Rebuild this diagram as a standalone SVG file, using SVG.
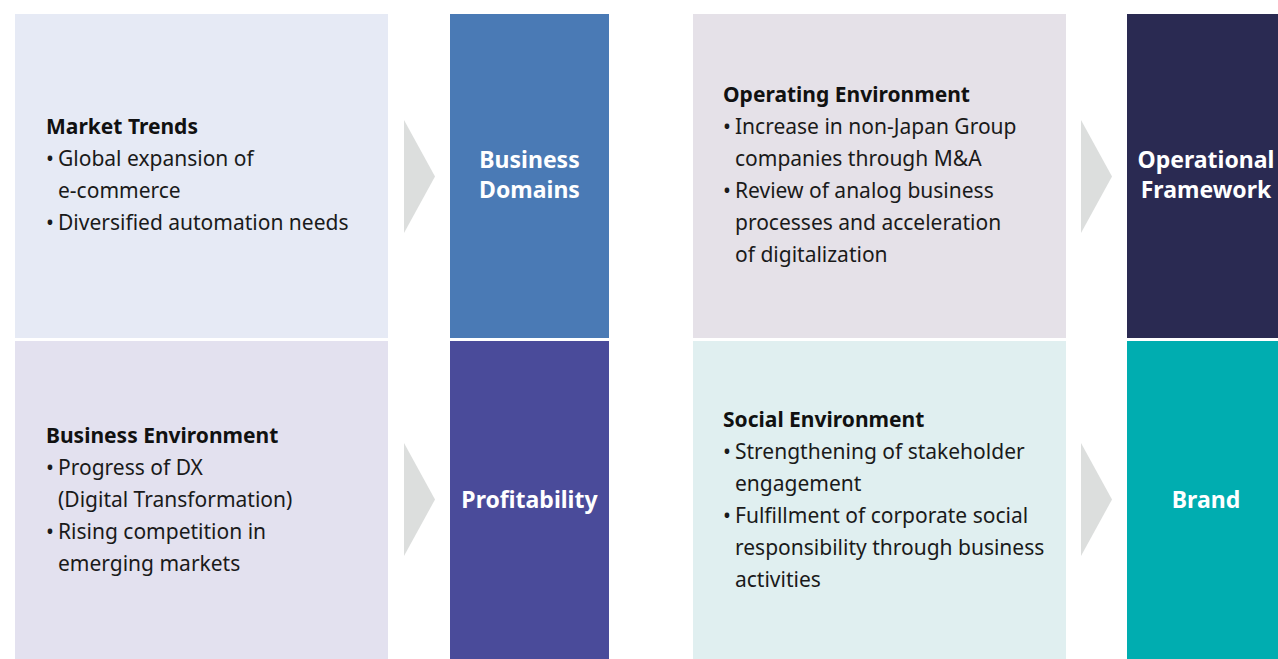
<svg xmlns="http://www.w3.org/2000/svg" width="1278" height="659" viewBox="0 0 1278 659">
<style>
.t{font-family:"Noto Sans","Open Sans",sans-serif;font-size:21px;fill:#1a1a1a}
.h{font-weight:bold;fill:#111}
.w{font-family:"Noto Sans","Open Sans",sans-serif;font-size:23px;font-weight:bold;fill:#fff;text-anchor:middle}
.chev{fill:#dcdedd}
</style>
<rect width="1278" height="659" fill="#fff"/>
<g id="market-trends">
<rect x="15" y="14" width="373" height="324" fill="#e6eaf5"/>
<text class="t h" x="46" y="134">Market Trends</text>
<text class="t" x="46" y="166">•</text><text class="t" x="58" y="166">Global expansion of</text>
<text class="t" x="58" y="198">e-commerce</text>
<text class="t" x="46" y="230">•</text><text class="t" x="58" y="230">Diversified automation needs</text>
</g>
<g id="business-environment">
<rect x="15" y="341" width="373" height="318" fill="#e3e1ef"/>
<text class="t h" x="46" y="443">Business Environment</text>
<text class="t" x="46" y="475">•</text><text class="t" x="58" y="475">Progress of DX</text>
<text class="t" x="58" y="507">(Digital Transformation)</text>
<text class="t" x="46" y="539">•</text><text class="t" x="58" y="539">Rising competition in</text>
<text class="t" x="58" y="571">emerging markets</text>
</g>
<g id="business-domains">
<rect x="450" y="14" width="159" height="324" fill="#4a7ab5"/>
<text class="w" x="529.5" y="168">Business</text>
<text class="w" x="529.5" y="198">Domains</text>
</g>
<g id="profitability">
<rect x="450" y="341" width="159" height="318" fill="#4a4b9a"/>
<text class="w" x="529.5" y="508">Profitability</text>
</g>
<g id="operating-environment">
<rect x="693" y="14" width="373" height="324" fill="#e5e1e8"/>
<text class="t h" x="723" y="102">Operating Environment</text>
<text class="t" x="723" y="134">•</text><text class="t" x="735" y="134">Increase in non-Japan Group</text>
<text class="t" x="735" y="166">companies through M&amp;A</text>
<text class="t" x="723" y="198">•</text><text class="t" x="735" y="198">Review of analog business</text>
<text class="t" x="735" y="230">processes and acceleration</text>
<text class="t" x="735" y="262">of digitalization</text>
</g>
<g id="social-environment">
<rect x="693" y="341" width="373" height="318" fill="#e0eff0"/>
<text class="t h" x="723" y="427">Social Environment</text>
<text class="t" x="723" y="459">•</text><text class="t" x="735" y="459">Strengthening of stakeholder</text>
<text class="t" x="735" y="491">engagement</text>
<text class="t" x="723" y="523">•</text><text class="t" x="735" y="523">Fulfillment of corporate social</text>
<text class="t" x="735" y="555">responsibility through business</text>
<text class="t" x="735" y="587">activities</text>
</g>
<g id="operational-framework">
<rect x="1127" y="14" width="151" height="324" fill="#2a2a52"/>
<text class="w" x="1206" y="168">Operational</text>
<text class="w" x="1206" y="198">Framework</text>
</g>
<g id="brand">
<rect x="1127" y="341" width="151" height="318" fill="#00adb0"/>
<text class="w" x="1206" y="508">Brand</text>
</g>
<g id="connectors">
<polygon class="chev" points="404,120 435,176.5 404,233"/>
<polygon class="chev" points="404,443 435,499.5 404,556"/>
<polygon class="chev" points="1081,120 1112,176.5 1081,233"/>
<polygon class="chev" points="1081,443 1112,499.5 1081,556"/>
</g>
</svg>
